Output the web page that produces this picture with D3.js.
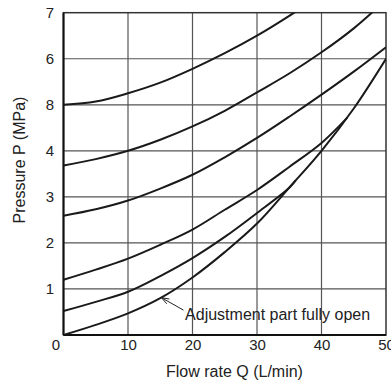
<!DOCTYPE html>
<html>
<head>
<meta charset="utf-8">
<script src="https://cdn.jsdelivr.net/npm/d3@7"></script>
<style>
  html, body { margin: 0; padding: 0; background: #fff; }
  svg { display: block; font-family: "Liberation Sans", Arial, sans-serif; }
</style>
</head>
<body>
<svg id="chart" width="391" height="385"></svg>
<script>
// ---- data ----
const flow = [0, 5, 10, 15, 20, 25, 30, 35, 40, 45, 50];
const curve1 = [5.00, 5.07, 5.25, 5.48, 5.78, 6.12, 6.50, 6.93, 7.40];
const curve2 = [3.68, 3.82, 4.00, 4.24, 4.53, 4.87, 5.27, 5.68, 6.14, 6.66, 7.28];
const curve3 = [2.59, 2.73, 2.92, 3.18, 3.48, 3.86, 4.28, 4.74, 5.22, 5.72, 6.25];
const curve4Q = [0, 5, 10, 15, 20, 25, 30, 35, 40, 44];
const curve4 = [1.20, 1.42, 1.66, 1.96, 2.29, 2.72, 3.15, 3.65, 4.17, 4.72];
const curve5Q = [0, 5, 10, 15, 20, 25, 30, 35, 36];
const curve5 = [0.52, 0.72, 0.94, 1.28, 1.67, 2.13, 2.65, 3.20, 3.36];
const curveOpen = [0.00, 0.22, 0.47, 0.80, 1.25, 1.80, 2.42, 3.20, 4.00, 4.92, 6.00];

const xTicks = [0, 10, 20, 30, 40, 50];
const xTickLabels = ["0", "10", "20", "30", "40", "50"];
const yTicks = [1, 2, 3, 4, 5, 6, 7];
const yTickLabels = ["1", "2", "3", "4", "8", "6", "7"];
const xTitle = "Flow rate Q (L/min)";
const yTitle = "Pressure P (MPa)";
const noteText = "Adjustment part fully open";
const noteTip = [15.2, 0.81];
const noteTail = [18.6, 0.54];
const noteAt = [18.85, 0.335];

// ---- layout ----
const svg = d3.select("#chart");
const L = 63.5, R = 386, T = 12.7, B = 335;
const x = d3.scaleLinear().domain([0, 50]).range([L, R]);
const y = d3.scaleLinear().domain([0, 7]).range([B, T]);

svg.append("defs").append("clipPath").attr("id", "plotclip")
  .append("rect").attr("x", L).attr("y", T)
  .attr("width", R - L).attr("height", B - T);

// grid
const grid = svg.append("g");
grid.selectAll("line.v").data(xTicks.filter(d => d > 0 && d < 50)).join("line")
  .attr("class", "v")
  .attr("x1", d => x(d)).attr("x2", d => x(d))
  .attr("y1", T).attr("y2", B)
  .attr("stroke", "#555").attr("stroke-width", 1.2);
grid.selectAll("line.h").data(yTicks.filter(d => d < 7)).join("line")
  .attr("class", "h")
  .attr("y1", d => y(d)).attr("y2", d => y(d))
  .attr("x1", L).attr("x2", R)
  .attr("stroke", "#555").attr("stroke-width", 1.2);

// frame
svg.append("rect").attr("x", L).attr("y", T)
  .attr("width", R - L).attr("height", B - T)
  .attr("fill", "none").attr("stroke", "#333").attr("stroke-width", 1.5);
svg.append("line").attr("x1", L).attr("x2", L).attr("y1", T).attr("y2", B)
  .attr("stroke", "#111").attr("stroke-width", 2);
svg.append("line").attr("x1", L).attr("x2", R).attr("y1", B).attr("y2", B)
  .attr("stroke", "#111").attr("stroke-width", 2);

// axes (labels only)
const xAxis = d3.axisBottom(x).tickValues(xTicks)
  .tickFormat((d, i) => xTickLabels[i]).tickSize(0).tickPadding(0);
const gx = svg.append("g").attr("transform", `translate(0,${B})`).call(xAxis);
gx.select(".domain").remove();
gx.selectAll("text").attr("dy", null).attr("y", 15)
  .attr("font-size", 15).attr("font-family", "Liberation Sans, Arial, sans-serif").attr("fill", "#222");
gx.selectAll(".tick").filter(d => d === 0).select("text")
  .attr("text-anchor", "end").attr("x", -4);

const yAxis = d3.axisLeft(y).tickValues(yTicks)
  .tickFormat((d, i) => yTickLabels[i]).tickSize(0).tickPadding(9.5);
const gy = svg.append("g").attr("transform", `translate(${L},0)`).call(yAxis);
gy.select(".domain").remove();
gy.selectAll("text").attr("font-size", 15)
  .attr("font-family", "Liberation Sans, Arial, sans-serif").attr("fill", "#222");

// curves
const line = d3.line().x(d => x(d[0])).y(d => y(d[1])).curve(d3.curveCatmullRom.alpha(0.5));
const series = [
  flow.slice(0, curve1.length).map((q, i) => [q, curve1[i]]),
  flow.map((q, i) => [q, curve2[i]]),
  flow.map((q, i) => [q, curve3[i]]),
  curve4Q.map((q, i) => [q, curve4[i]]),
  curve5Q.map((q, i) => [q, curve5[i]]),
  flow.map((q, i) => [q, curveOpen[i]])
];
svg.append("g").attr("clip-path", "url(#plotclip)")
  .selectAll("path").data(series).join("path")
  .attr("d", line).attr("fill", "none")
  .attr("stroke", "#1a1a1a").attr("stroke-width", 2);

// annotation
const tx = x(noteTip[0]), ty = y(noteTip[1]);
const sx = x(noteTail[0]), sy = y(noteTail[1]);
svg.append("line").attr("x1", sx).attr("y1", sy).attr("x2", tx).attr("y2", ty)
  .attr("stroke", "#222").attr("stroke-width", 1);
const ang = Math.atan2(sy - ty, sx - tx);
const hl = 8, ha = 0.35;
svg.append("path")
  .attr("d", `M${tx + hl * Math.cos(ang - ha)},${ty + hl * Math.sin(ang - ha)} L${tx},${ty} L${tx + hl * Math.cos(ang + ha)},${ty + hl * Math.sin(ang + ha)}`)
  .attr("fill", "none").attr("stroke", "#222").attr("stroke-width", 1);
svg.append("text").attr("x", x(noteAt[0])).attr("y", y(noteAt[1]))
  .attr("font-size", 16).attr("fill", "#222").text(noteText);

// titles
svg.append("text").attr("x", 234.5).attr("y", 376.5).attr("text-anchor", "middle")
  .attr("font-size", 16).attr("fill", "#222").text(xTitle);
svg.append("text").attr("transform", "translate(25,160) rotate(-90)")
  .attr("text-anchor", "middle").attr("font-size", 16).attr("fill", "#222").text(yTitle);
</script>
</body>
</html>
